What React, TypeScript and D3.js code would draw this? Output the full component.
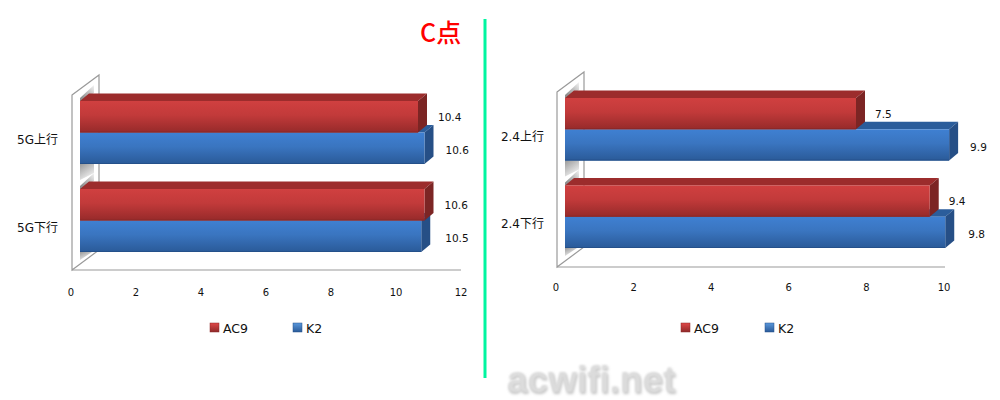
import React from "react";
import * as d3 from "d3";

const seriesNames = ["AC9", "K2"];
const leftCategories = ["5G上行", "5G下行"];
const leftAC9 = [10.4, 10.6];
const leftK2 = [10.6, 10.5];
const leftTicks = [0, 2, 4, 6, 8, 10, 12];
const rightCategories = ["2.4上行", "2.4下行"];
const rightAC9 = [7.5, 9.4];
const rightK2 = [9.9, 9.8];
const rightTicks = [0, 2, 4, 6, 8, 10];

const FONT = "'DejaVu Sans', sans-serif";
const CJK = "'DejaVu Sans', 'Noto Sans CJK SC', sans-serif";
const DX = 9;
const DY = 7.5;

const faces = [
  { top: "#9c2c2c", side: "#7c2524", grad: "url(#redFront)", marker: "url(#redMarker)", edge: "#8a2828" },
  { top: "#2b5d9b", side: "#264f86", grad: "url(#blueFront)", marker: "url(#blueMarker)", edge: "#24508a" },
];

type PanelProps = {
  cats: string[];
  a: number[];
  b: number[];
  ticks: number[];
  max: number;
  x0: number;
  unit: number;
  yTop: number;
  yBottom: number;
  floorY: number;
  wallX: number;
  axisEnd: number;
  catRight: number;
  catDy: number;
  tickY: number;
  legendX: number[];
  legendY: number;
  labelDx: number[][];
};

function Panel(p: PanelProps) {
  const x = d3.scaleLinear().domain([0, p.max]).range([p.x0, p.x0 + p.max * p.unit]);
  const tickX = d3.scaleLinear().domain([0, p.max]).range([p.wallX - 1, p.wallX - 1 + p.max * p.unit]);
  const y = d3.scaleBand<string>().domain(p.cats).range([p.yTop, p.yBottom]).paddingInner(25 / 88);
  const half = y.bandwidth() / 2;
  const values = [p.a, p.b];
  const wallTop = p.yTop - 6;
  const wx = p.wallX;
  const x0 = p.x0;
  return (
    <g>
      {/* side wall */}
      <path
        d={`M${wx},${wallTop}L${wx + 27},${wallTop - 20}V${p.floorY - 20}L${wx},${p.floorY}Z`}
        fill="#fff"
        stroke="#9a9a9a"
        strokeWidth={1.2}
      />
      {/* shading on the wall, above and below each pair of bars */}
      {p.cats.map((c, i) => {
        const t = y(c) as number;
        const b = t + y.bandwidth();
        const isLast = i === p.cats.length - 1;
        return (
          <g key={`shade-${c}`}>
            <path d={`M${x0},${t - 3}L${x0 + 14},${t - 16}V${t - 8}L${x0},${t + 1}Z`} fill="url(#shadeUp)" />
            <path
              d={isLast
                ? `M${x0},${b}H${x0 + 12}L${x0},${b + 8}Z`
                : `M${x0},${b}H${x0 + 14}V${b + 9}L${x0},${b + 16}Z`}
              fill="url(#shadeDown)"
            />
          </g>
        );
      })}
      <line x1={wx} x2={p.axisEnd} y1={p.floorY} y2={p.floorY} stroke="#9a9a9a" strokeWidth={1.2} />
      {/* bars: the lower series first, so the upper one sits over it */}
      {p.cats.map((c, i) =>
        [1, 0].map((s) => {
          const vals = values[s];
          const yy = (y(c) as number) + s * half;
          const xe = x(vals[i]);
          const f = faces[s];
          return (
            <g key={`${c}-${s}`}>
              <path d={`M${x0},${yy}L${x0 + DX},${yy - DY}H${xe + DX}L${xe},${yy}Z`} fill={f.top} />
              <path d={`M${xe},${yy}L${xe + DX},${yy - DY}V${yy + half - DY}L${xe},${yy + half}Z`} fill={f.side} />
              <rect x={x0} y={yy} width={xe - x0} height={half} fill={f.grad} />
              <line x1={x0} x2={xe} y1={yy + half - 0.5} y2={yy + half - 0.5} stroke={f.edge} />
            </g>
          );
        })
      )}
      {/* value labels */}
      {p.cats.map((c, i) =>
        values.map((vals, s) => (
          <text
            key={`${c}-v${s}`}
            x={x(vals[i]) + p.labelDx[s][i]}
            y={(y(c) as number) + s * half + half / 2 + s * 2}
            dominantBaseline="central"
            fontFamily={FONT}
            fontSize={10.5}
            fill="#111"
          >
            {vals[i].toFixed(1)}
          </text>
        ))
      )}
      {/* category labels */}
      {p.cats.map((c) => (
        <text
          key={c}
          x={p.catRight}
          y={(y(c) as number) + half + p.catDy}
          textAnchor="end"
          dominantBaseline="central"
          fontFamily={CJK}
          fontSize={12}
          fill="#111"
        >
          {c}
        </text>
      ))}
      {/* ticks */}
      {p.ticks.map((t) => (
        <text key={t} x={tickX(t)} y={p.tickY} textAnchor="middle" dominantBaseline="central" fontFamily={FONT} fontSize={10} fill="#111">
          {t}
        </text>
      ))}
      {/* legend */}
      {seriesNames.map((n, s) => (
        <g key={n}>
          <rect x={p.legendX[s]} y={p.legendY - 5} width={9} height={9} fill={faces[s].marker} stroke={faces[s].edge} strokeWidth={0.5} />
          <text x={p.legendX[s] + 13} y={p.legendY} dominantBaseline="central" fontFamily={FONT} fontSize={12.5} fill="#111">
            {n}
          </text>
        </g>
      ))}
    </g>
  );
}

export default function App() {
  return (
    <svg width={1000} height={400} viewBox="0 0 1000 400" style={{ position: "absolute", left: 0, top: 0, background: "#fff" }}>
      <defs>
        <linearGradient id="redFront" x1="0" y1="0" x2="0" y2="1">
          <stop offset="0" stopColor="#d04040" />
          <stop offset="0.45" stopColor="#c23a3a" />
          <stop offset="1" stopColor="#962a2a" />
        </linearGradient>
        <linearGradient id="blueFront" x1="0" y1="0" x2="0" y2="1">
          <stop offset="0" stopColor="#3f80d2" />
          <stop offset="0.45" stopColor="#3a75c0" />
          <stop offset="1" stopColor="#2a5a98" />
        </linearGradient>
        <linearGradient id="redMarker" x1="0" y1="0" x2="0" y2="1">
          <stop offset="0" stopColor="#e04848" />
          <stop offset="1" stopColor="#8f2a2a" />
        </linearGradient>
        <linearGradient id="blueMarker" x1="0" y1="0" x2="0" y2="1">
          <stop offset="0" stopColor="#5a98dc" />
          <stop offset="1" stopColor="#2a5a98" />
        </linearGradient>
        <linearGradient id="shadeUp" x1="0" y1="1" x2="1" y2="0">
          <stop offset="0.2" stopColor="#8f8f8f" />
          <stop offset="1" stopColor="#f4f4f4" />
        </linearGradient>
        <linearGradient id="shadeDown" x1="0" y1="0" x2="0.6" y2="1">
          <stop offset="0" stopColor="#9a9a9a" />
          <stop offset="1" stopColor="#f4f4f4" />
        </linearGradient>
        <filter id="wm" x="-5%" y="-20%" width="110%" height="150%">
          <feGaussianBlur in="SourceGraphic" stdDeviation="0.8" result="soft" />
          <feOffset in="SourceAlpha" dx="1" dy="1.5" result="off" />
          <feGaussianBlur in="off" stdDeviation="1.4" result="blur" />
          <feFlood floodColor="#c4c4c4" />
          <feComposite in2="blur" operator="in" result="shadow" />
          <feMerge>
            <feMergeNode in="shadow" />
            <feMergeNode in="soft" />
          </feMerge>
        </filter>
      </defs>

      <Panel
        cats={leftCategories}
        a={leftAC9}
        b={leftK2}
        ticks={leftTicks}
        max={12}
        x0={80}
        unit={32.5}
        yTop={101}
        yBottom={252}
        floorY={270}
        wallX={72}
        axisEnd={461}
        catRight={58}
        catDy={7.5}
        tickY={292}
        legendX={[210, 293]}
        legendY={328}
        labelDx={[[20, 20], [21, 24]]}
      />
      <Panel
        cats={rightCategories}
        a={rightAC9}
        b={rightK2}
        ticks={rightTicks}
        max={10}
        x0={565}
        unit={38.8}
        yTop={98}
        yBottom={248}
        floorY={267}
        wallX={557}
        axisEnd={945}
        catRight={544}
        catDy={7.5}
        tickY={287}
        legendX={[681, 765]}
        legendY={328}
        labelDx={[[19, 19], [21, 23]]}
      />

      <line x1={485} x2={485} y1={19} y2={378} stroke="#00f5a0" strokeWidth={3} />
      <text x={420} y={31} dominantBaseline="central" fontFamily="'Noto Sans CJK SC', sans-serif" fontWeight={500} fontSize={25} fill="#ff0000">
        C点
      </text>
      <text x={507} y={392} fontFamily="'Liberation Sans', sans-serif" fontWeight="bold" fontSize={37} fill="#dcdcdc" filter="url(#wm)">
        acwifi.net
      </text>
    </svg>
  );
}
